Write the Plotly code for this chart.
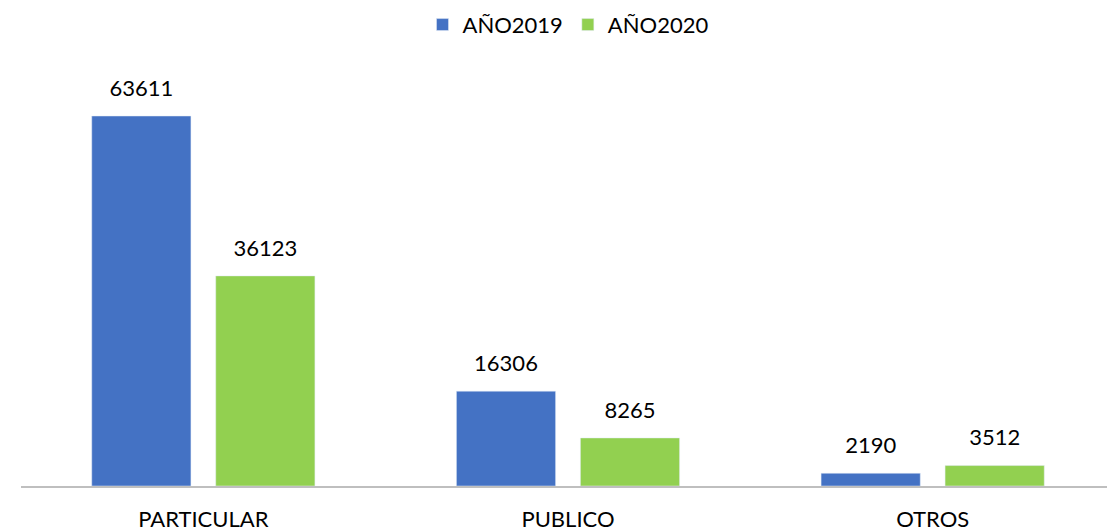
import plotly.graph_objects as go

categories = ["PARTICULAR", "PUBLICO", "OTROS"]
anio_2019 = [63611, 16306, 2190]
anio_2020 = [36123, 8265, 3512]

BLUE = "#4472C4"
GREEN = "#92D050"

fig = go.Figure()
fig.add_trace(go.Bar(x=categories, y=anio_2019, name="AÑO2019", marker_color=BLUE,
                     offsetgroup="a", hoverinfo="x+y"))
fig.add_trace(go.Bar(x=categories, y=anio_2020, name="AÑO2020", marker_color=GREEN,
                     offsetgroup="b", hoverinfo="x+y"))

# value labels, raised above each bar by an invisible marker
for vals, grp in [(anio_2019, "a"), (anio_2020, "b")]:
    fig.add_trace(go.Scatter(x=categories, y=vals, text=vals, mode="markers+text",
                             textposition="top center", offsetgroup=grp,
                             marker=dict(size=22, opacity=0), showlegend=False,
                             hoverinfo="skip", cliponaxis=False,
                             textfont=dict(size=22, color="#000000")))

fig.update_layout(
    width=1107, height=524,
    barmode="group", bargap=0.32, bargroupgap=0.2,
    scattermode="group", scattergap=0.32,
    plot_bgcolor="white", paper_bgcolor="white",
    font=dict(family="Lato, Open Sans, sans-serif", size=22, color="#000000"),
    margin=dict(l=13, r=0, t=60, b=46),
    legend=dict(orientation="h", x=0.5, xanchor="center", y=0.968, yanchor="middle",
                yref="container", font=dict(size=22)),
    xaxis=dict(showline=True, linecolor="#BFBFBF", linewidth=2, ticks="",
               ticklabelstandoff=13, tickfont=dict(size=22)),
    yaxis=dict(visible=False, range=[0, 71863]),
)
fig.write_html("out.html")
